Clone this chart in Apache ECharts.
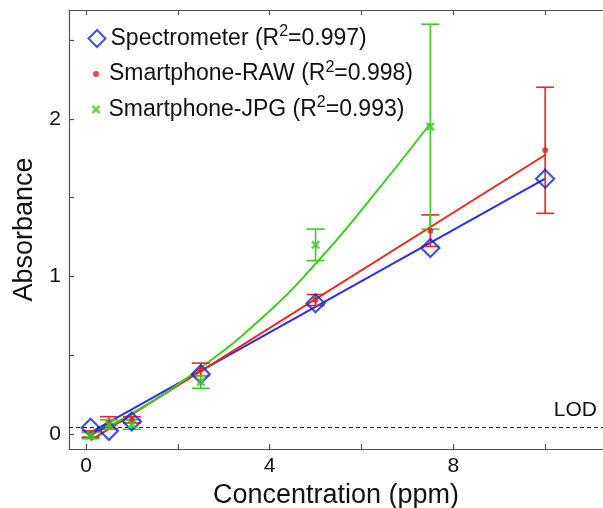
<!DOCTYPE html>
<html lang="en">
<head>
    <meta charset="UTF-8">
    <title>Absorbance vs concentration</title>
    <script src="https://cdn.jsdelivr.net/npm/echarts@6/dist/echarts.min.js"></script>
    <style>
        body { margin: 0; background: #fff; }
    </style>
</head>
<body>
    <div id="main" style="width: 603px;height:508px;"></div>
    <script type="text/javascript">
        // concentrations (ppm)
        const concSpec = [0.1, 0.5, 1, 2.5, 5, 7.5, 10];
        const concRaw = [0.1, 0.5, 1, 2.5, 5, 7.5, 10];
        const concJpg = [0.1, 0.5, 1, 2.5, 5, 7.5];

        // measured absorbance
        const absSpec = [0.04, 0.02, 0.08, 0.38, 0.83, 1.18, 1.62];
        const absRaw = [0.0, 0.07, 0.09, 0.41, 0.85, 1.29, 1.80];
        const errRaw = [0.02, 0.04, 0.02, 0.04, 0.035, 0.10, 0.40];
        const absJpg = [-0.01, 0.06, 0.06, 0.33, 1.20, 1.95];
        const errJpg = [0.02, 0.03, 0.03, 0.04, 0.10, 0.65];

        // fitted curves
        const fitSpecX = [0.1, 10];
        const fitSpecY = [0.01, 1.62];
        const fitRawX = [0.1, 10];
        const fitRawY = [-0.04, 1.77];
        const fitJpgX = [0.1, 1, 2.5, 4, 5, 6, 7.5];
        const fitJpgY = [0.0, 0.13, 0.42, 0.78, 1.08, 1.42, 1.97];

        const seriesNames = ['Spectrometer', 'Smartphone-RAW', 'Smartphone-JPG'];
        const r2Values = ['0.997', '0.998', '0.993'];
        const lod = 0.045;

        const xTicks = [0, 2, 4, 6, 8, 10];
        const xLabels = [0, 4, 8];
        const yTicks = [0, 0.5, 1, 1.5, 2, 2.5];
        const yLabels = [0, 1, 2];

        const blue = '#2a2ee8';
        const red = '#e8281e';
        const green = '#3ccc22';
        const font = 'Liberation Sans';

        const zip = (xs, ys) => xs.map((x, i) => [x, ys[i]]);

        function errorBar(color) {
            return function (params, api) {
                const x = api.value(0);
                const lo = api.coord([x, api.value(1)]);
                const hi = api.coord([x, api.value(2)]);
                const half = 9;
                const style = { stroke: color, lineWidth: 1.6 };
                return {
                    type: 'group',
                    children: [
                        { type: 'line', shape: { x1: lo[0], y1: lo[1], x2: hi[0], y2: hi[1] }, style: style },
                        { type: 'line', shape: { x1: lo[0] - half, y1: lo[1], x2: lo[0] + half, y2: lo[1] }, style: style },
                        { type: 'line', shape: { x1: hi[0] - half, y1: hi[1], x2: hi[0] + half, y2: hi[1] }, style: style }
                    ]
                };
            };
        }

        const crossPath = 'path://M0,2 L2,0 L5,3 L8,0 L10,2 L7,5 L10,8 L8,10 L5,7 L2,10 L0,8 L3,5 Z';

        function legendFor(i, w, h, pad) {
            return {
                data: [seriesNames[i]],
                left: 96 - w / 2,
                top: 37 + i * 35.5 - 13,
                padding: 0,
                itemWidth: w,
                itemHeight: h,
                selectedMode: false,
                formatter: name => name + ' (R{s|2}=' + r2Values[i] + ')',
                textStyle: {
                    fontFamily: font, fontSize: 23, color: '#111',
                    padding: [0, 0, 0, pad],
                    rich: {
                        s: { fontFamily: font, fontSize: 16, color: '#111', padding: [0, 0, 13, 0] }
                    }
                }
            };
        }

        const axisLineStyle = { color: '#555', width: 1.2 };

        let options = {
            animation: false,
            backgroundColor: '#fff',
            grid: { left: 69, top: 10, right: 0, bottom: 59, outerBoundsMode: 'none' },
            legend: [
                legendFor(0, 17, 17, 0),
                legendFor(1, 6, 6, 5),
                legendFor(2, 9, 9, 3)
            ],
            xAxis: [{
                type: 'value',
                min: -0.37,
                max: 11.26,
                name: 'Concentration (ppm)',
                nameLocation: 'middle',
                nameGap: 29,
                nameTextStyle: { fontFamily: font, fontSize: 27, color: '#111' },
                axisLine: { show: true, onZero: false, lineStyle: axisLineStyle },
                axisTick: { show: true, inside: true, length: 5, customValues: xTicks, lineStyle: axisLineStyle },
                axisLabel: { customValues: xLabels, fontFamily: font, fontSize: 21, color: '#111', margin: 7 },
                splitLine: { show: false }
            }, {
                type: 'value',
                position: 'top',
                min: -0.37,
                max: 11.26,
                axisLine: { show: true, onZero: false, lineStyle: axisLineStyle },
                axisTick: { show: true, inside: true, length: 5, customValues: xTicks, lineStyle: axisLineStyle },
                axisLabel: { show: false },
                splitLine: { show: false }
            }],
            yAxis: {
                type: 'value',
                min: -0.095,
                max: 2.69,
                name: 'Absorbance',
                nameLocation: 'middle',
                nameGap: 30,
                nameTextStyle: { fontFamily: font, fontSize: 27, color: '#111' },
                axisLine: { show: true, onZero: false, lineStyle: axisLineStyle },
                axisTick: { show: true, inside: true, length: 5, customValues: yTicks, lineStyle: axisLineStyle },
                axisLabel: { customValues: yLabels, fontFamily: font, fontSize: 21, color: '#111', margin: 8 },
                splitLine: { show: false }
            },
            series: [
                {
                    name: 'lod',
                    type: 'line',
                    data: [],
                    markLine: {
                        silent: true,
                        symbol: 'none',
                        lineStyle: { color: '#222', type: [4, 3], width: 1 },
                        label: {
                            position: 'insideEndTop',
                            formatter: 'LOD',
                            fontFamily: font,
                            fontSize: 21,
                            color: '#111',
                            distance: [6, 7]
                        },
                        data: [{ yAxis: lod }]
                    }
                },
                {
                    type: 'line', data: zip(fitSpecX, fitSpecY), symbol: 'none',
                    lineStyle: { color: blue, width: 2 }, z: 2
                },
                {
                    type: 'line', data: zip(fitRawX, fitRawY), symbol: 'none',
                    lineStyle: { color: red, width: 2 }, z: 3
                },
                {
                    type: 'line', data: zip(fitJpgX, fitJpgY), symbol: 'none', smooth: true,
                    lineStyle: { color: green, width: 2 }, z: 4
                },
                {
                    type: 'custom',
                    renderItem: errorBar(red),
                    data: concRaw.map((x, i) => [x, absRaw[i] - errRaw[i], absRaw[i] + errRaw[i]]),
                    z: 5
                },
                {
                    type: 'custom',
                    renderItem: errorBar(green),
                    data: concJpg.map((x, i) => [x, absJpg[i] - errJpg[i], absJpg[i] + errJpg[i]]),
                    z: 5
                },
                {
                    name: seriesNames[0],
                    type: 'scatter',
                    data: zip(concSpec, absSpec),
                    symbol: 'diamond',
                    symbolSize: 18,
                    itemStyle: { color: 'rgba(255,255,255,0)', borderColor: '#1428cc', borderWidth: 2.2 },
                    z: 6
                },
                {
                    name: seriesNames[1],
                    type: 'scatter',
                    data: zip(concRaw, absRaw),
                    symbol: 'circle',
                    symbolSize: 6,
                    itemStyle: { color: '#dd2020' },
                    z: 7
                },
                {
                    name: seriesNames[2],
                    type: 'scatter',
                    data: zip(concJpg, absJpg),
                    symbol: crossPath,
                    symbolSize: 9,
                    itemStyle: { color: green },
                    z: 7
                }
            ]
        };

        let myChart = echarts.init(document.getElementById('main'));
        myChart.setOption(options);
    </script>
</body>
</html>
